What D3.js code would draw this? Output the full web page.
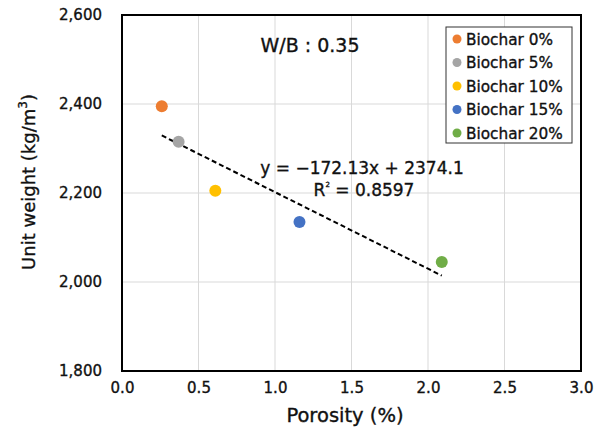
<!DOCTYPE html>
<html>
<head>
<meta charset="utf-8">
<script src="https://cdn.jsdelivr.net/npm/d3@7"></script>
<style>
  body { margin: 0; background: #fff; }
  svg text { font-family: "DejaVu Sans", sans-serif; fill: #111; stroke: #111; stroke-width: 0.35px; }
</style>
</head>
<body>
<svg id="chart" width="604" height="429"></svg>
<script>
// Unit weight vs. porosity for each biochar replacement level (W/B 0.35)
const categories = ["Biochar 0%", "Biochar 5%", "Biochar 10%", "Biochar 15%", "Biochar 20%"];
const porosity = [0.26, 0.37, 0.61, 1.16, 2.09];
const unitWeight = [2395, 2315, 2205, 2135, 2045];
const colors = ["#ED7D31", "#A5A5A5", "#FFC000", "#4472C4", "#70AD47"];
const xTicks = [0, 0.5, 1.0, 1.5, 2.0, 2.5, 3.0];
const yTicks = [1800, 2000, 2200, 2400, 2600];
const fit = { slope: -172.13, intercept: 2374.1, r2: 0.8597 };

const svg = d3.select("#chart");
const m = { left: 122, top: 15, right: 581, bottom: 371 };

const x = d3.scaleLinear().domain([0, 3]).range([m.left, m.right]);
const y = d3.scaleLinear().domain([1800, 2600]).range([m.bottom, m.top]);

// gridlines
const grid = svg.append("g");
grid.selectAll(".gx").data(xTicks).join("line")
  .attr("x1", d => x(d)).attr("x2", d => x(d))
  .attr("y1", m.top).attr("y2", m.bottom)
  .attr("stroke", "#d9d9d9").attr("stroke-width", 1);
grid.selectAll(".gy").data(yTicks).join("line")
  .attr("x1", m.left).attr("x2", m.right)
  .attr("y1", d => y(d)).attr("y2", d => y(d))
  .attr("stroke", "#d9d9d9").attr("stroke-width", 1);

// axes (labels only)
const xAxis = svg.append("g").attr("transform", `translate(0,${m.bottom})`)
  .call(d3.axisBottom(x).tickValues(xTicks).tickFormat(d3.format(".1f")).tickSize(0).tickPadding(11));
const yAxis = svg.append("g").attr("transform", `translate(${m.left},0)`)
  .call(d3.axisLeft(y).tickValues(yTicks).tickFormat(d3.format(",")).tickSize(0).tickPadding(20));
[xAxis, yAxis].forEach(a => {
  a.select(".domain").remove();
  a.selectAll("text").attr("font-size", 15).attr("font-family", null);
});

// plot frame
svg.append("rect")
  .attr("x", m.left).attr("y", m.top)
  .attr("width", m.right - m.left).attr("height", m.bottom - m.top)
  .attr("fill", "none").attr("stroke", "#000").attr("stroke-width", 2);

// linear trendline over the data range
const [xmin, xmax] = d3.extent(porosity);
svg.append("line")
  .attr("x1", x(xmin)).attr("y1", y(fit.slope * xmin + fit.intercept))
  .attr("x2", x(xmax)).attr("y2", y(fit.slope * xmax + fit.intercept))
  .attr("stroke", "#000").attr("stroke-width", 2).attr("stroke-dasharray", "5,3");

// data points
svg.selectAll(".pt").data(categories).join("circle")
  .attr("cx", (d, i) => x(porosity[i]))
  .attr("cy", (d, i) => y(unitWeight[i]))
  .attr("r", 6)
  .attr("fill", (d, i) => colors[i]);

// regression annotation
svg.append("text").attr("x", 362).attr("y", 174).attr("text-anchor", "middle")
  .attr("font-size", 17).text(`y = \u2212${Math.abs(fit.slope)}x + ${fit.intercept}`);
const r2 = svg.append("text").attr("x", 364).attr("y", 196).attr("text-anchor", "middle")
  .attr("font-size", 17);
r2.append("tspan").text("R");
r2.append("tspan").attr("font-size", 7).attr("dy", -9).text("2");
r2.append("tspan").attr("dy", 9).text(` = ${fit.r2}`);

// mix label
svg.append("text").attr("x", 310).attr("y", 52).attr("text-anchor", "middle")
  .attr("font-size", 19).text("W/B : 0.35");

// legend
const lg = svg.append("g");
lg.append("rect").attr("x", 446).attr("y", 27).attr("width", 126).attr("height", 116)
  .attr("fill", "#fff").attr("stroke", "#333").attr("stroke-width", 1);
const items = lg.selectAll(".li").data(categories).join("g")
  .attr("transform", (d, i) => `translate(457,${39 + i * 23.5})`);
items.append("circle").attr("r", 4.5).attr("fill", (d, i) => colors[i]);
items.append("text").attr("x", 9).attr("y", 5.5).attr("font-size", 15.3).text(d => d);

// axis titles
svg.append("text").attr("x", 345).attr("y", 422).attr("text-anchor", "middle")
  .attr("font-size", 19.5).text("Porosity (%)");
const yt = svg.append("text").attr("transform", "translate(35,182) rotate(-90)")
  .attr("text-anchor", "middle").attr("font-size", 18);
yt.append("tspan").text("Unit weight (kg/m");
yt.append("tspan").attr("font-size", 12).attr("dy", -8).text("3");
yt.append("tspan").attr("dy", 8).text(")");
</script>
</body>
</html>
